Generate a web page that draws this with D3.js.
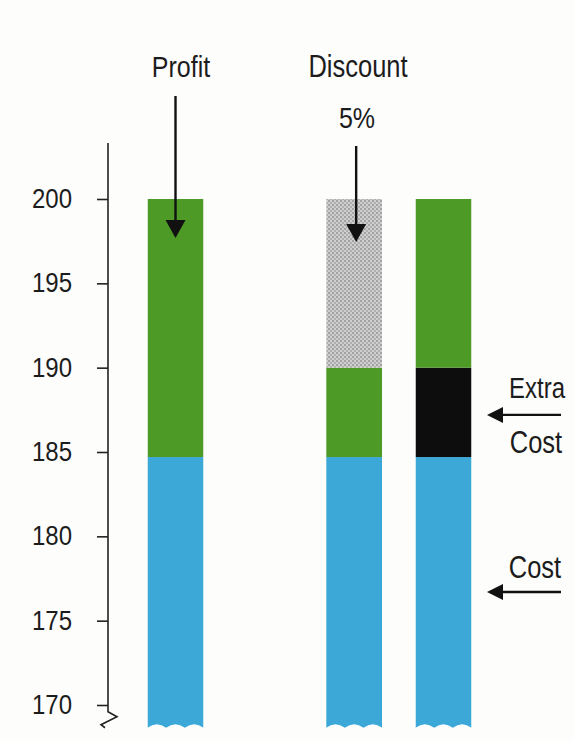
<!DOCTYPE html>
<html>
<head>
<meta charset="utf-8">
<script src="https://cdn.jsdelivr.net/npm/d3@7"></script>
<style>
  html, body { margin: 0; padding: 0; background: #fdfdfb; }
  svg { display: block; }
  text { font-family: "Liberation Sans", Arial, Helvetica, sans-serif; fill: #1c1c1c; }
</style>
</head>
<body>
<svg id="chart" width="574" height="740"></svg>
<script>
// Price build-up: cost + profit, then the same price after a 5% discount
// or after an extra cost, each stacked on a broken axis starting at 170.
const barNames   = ["Profit", "", "Discount", "Extra Cost"];   // "" is an empty slot
const stackKeys  = ["cost", "extra", "profit", "discount"];
const costVals     = [184.7, 0, 184.7, 184.7];
const extraVals    = [0,     0, 0,     5.3];
const profitVals   = [15.3,  0, 5.3,   10];
const discountVals = [0,     0, 10,    0];
const tickValues = [170, 175, 180, 185, 190, 195, 200];
const axisBreakValue = 168.65;   // where the bars are torn off below the axis

const colors = {
  cost: "#3ba8d8",
  extra: "#0d0d0d",
  profit: "#4d9a26",
  discount: "url(#dots)"
};

const svg = d3.select("#chart");

const rows = barNames.map((name, i) => ({
  name,
  cost: costVals[i], extra: extraVals[i], profit: profitVals[i], discount: discountVals[i]
})).filter(d => d.name !== "");

const y = d3.scaleLinear().domain([170, 200]).range([705, 199]);
const x = d3.scalePoint().domain(barNames).range([175.5, 443.5]);
const barW = 56;

// textures
const defs = svg.append("defs");
const dots = defs.append("pattern").attr("id", "dots")
  .attr("width", 4).attr("height", 4).attr("patternUnits", "userSpaceOnUse");
dots.append("rect").attr("width", 4).attr("height", 4).attr("fill", "#cfcfcf");
dots.append("circle").attr("cx", 1).attr("cy", 1).attr("r", 0.9).attr("fill", "#8e8e8e");
dots.append("circle").attr("cx", 3).attr("cy", 3).attr("r", 0.9).attr("fill", "#a0a0a0");

// torn bar bottoms
defs.selectAll("clipPath").data(rows).join("clipPath")
  .attr("id", (d, i) => "tear" + i)
  .append("path")
  .attr("d", d => {
    const x0 = x(d.name) - barW / 2, x1 = x0 + barW;
    const yb = y(axisBreakValue);
    const waves = 3, amp = 3.5;
    let p = `M${x0},0 L${x1},0 L${x1},${yb}`;
    const step = barW / waves;
    for (let k = 0; k < waves; k++) {
      const xa = x1 - k * step, xb = xa - step;
      p += ` Q${(xa + xb) / 2},${yb - amp * 2} ${xb},${yb}`;
    }
    return p + " Z";
  });

const stacked = d3.stack().keys(stackKeys)(rows);

const barG = svg.append("g");
rows.forEach((row, i) => {
  const g = barG.append("g").attr("clip-path", `url(#tear${i})`);
  stacked.forEach(layer => {
    const seg = layer[i];
    if (seg[1] - seg[0] <= 0) return;
    const torn = seg[0] <= axisBreakValue;
    const lo = Math.max(seg[0], axisBreakValue);
    g.append("rect")
      .attr("x", x(row.name) - barW / 2)
      .attr("width", barW)
      .attr("y", y(seg[1]))
      .attr("height", y(lo) - y(seg[1]) + (torn ? 4 : 0))
      .attr("fill", colors[layer.key]);
  });
});

// y axis with a break at the bottom
const axisX = 108;
const axisG = svg.append("g").attr("transform", `translate(${axisX},0)`);
axisG.call(d3.axisLeft(y).tickValues(tickValues).tickSize(11).tickPadding(25).tickFormat(d3.format("d")));
axisG.select(".domain").remove();
axisG.selectAll(".tick line").attr("stroke", "#222").attr("stroke-width", 1.6);
axisG.selectAll(".tick text")
  .attr("font-size", 24).attr("fill", "#1c1c1c")
  .attr("font-family", "Liberation Sans, Arial, sans-serif")
  .attr("x", null).attr("dy", null)
  .attr("transform", "translate(-36,8.5) scale(1,1.15)");
axisG.append("path")
  .attr("d", `M0,143 L0,${y(169.6)} L9,${y(169.6) + 5} L-7,${y(169.6) + 13} L-3,${y(169.6) + 16}`)
  .attr("fill", "none").attr("stroke", "#222").attr("stroke-width", 1.6);

// annotations
const ann = svg.append("g");
function arrow(x1, y1, x2, y2, headLen, headW) {
  const a = Math.atan2(y2 - y1, x2 - x1);
  const bx = x2 - headLen * Math.cos(a), by = y2 - headLen * Math.sin(a);
  ann.append("line").attr("x1", x1).attr("y1", y1).attr("x2", bx).attr("y2", by)
    .attr("stroke", "#111").attr("stroke-width", 2.4);
  const nx = -Math.sin(a) * headW / 2, ny = Math.cos(a) * headW / 2;
  ann.append("path")
    .attr("d", `M${x2},${y2} L${bx + nx},${by + ny} L${bx - nx},${by - ny} Z`)
    .attr("fill", "#111");
}
function label(txt, cx, baseline, size) {
  ann.append("text")
    .attr("transform", `translate(${cx},${baseline}) scale(1,1.2)`)
    .attr("text-anchor", "middle")
    .attr("font-size", size)
    .text(txt);
}

label("Profit", 181, 77, 25);
arrow(x("Profit"), 96, x("Profit"), 238, 18, 20);

label("Discount", 358, 77, 25.5);
label("5%", 357, 128, 25);
arrow(x("Discount") + 2, 146, x("Discount") + 2, 242, 18, 20);

label("Extra", 537, 398, 24);
label("Cost", 536, 453, 25.5);
arrow(561, y(187.2), 487, y(187.2), 16, 16);

label("Cost", 535, 578, 25.5);
arrow(561, y(176.7), 487, y(176.7), 16, 16);
</script>
</body>
</html>
